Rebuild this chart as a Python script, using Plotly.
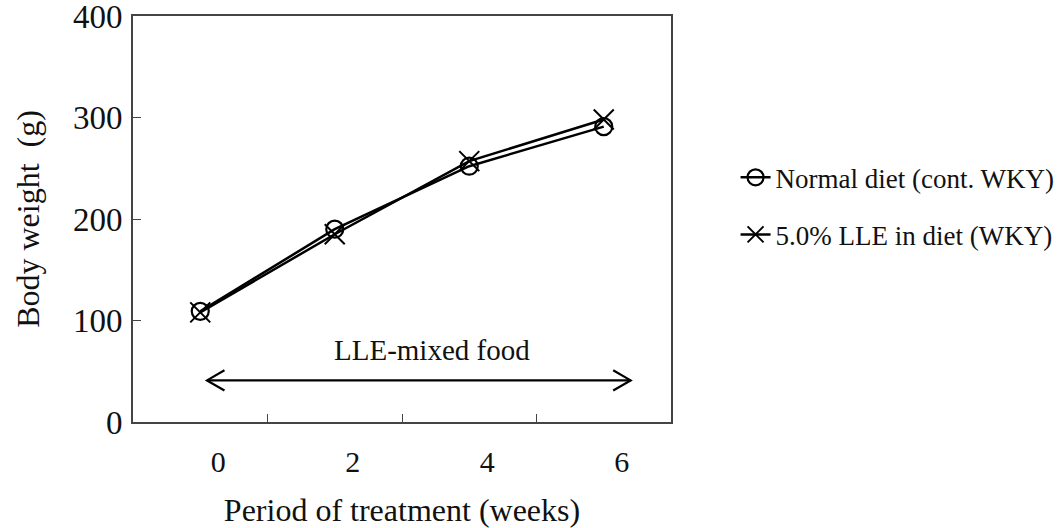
import plotly.graph_objects as go

# Body weight over the treatment period (weeks)
weeks = ["0", "2", "4", "6"]
normal_diet = [109, 190, 252, 291]
lle_diet = [108, 185, 257, 298]
series_names = ["Normal diet (cont. WKY)", "5.0% LLE in diet (WKY)"]

# Extent of the LLE-mixed feeding period arrow (category index units / grams)
arrow_x0, arrow_x1, arrow_y = 0.05, 3.2, 41
food_label = "LLE-mixed food"
food_label_x, food_label_y = 1.72, 71

FONT = "Liberation Serif, Times New Roman, serif"
FRAME = "#444444"

fig = go.Figure()
fig.add_trace(go.Scatter(
    x=weeks, y=normal_diet, name=series_names[0], mode="lines+markers",
    line=dict(color="black", width=2.5),
    marker=dict(symbol="circle-open", size=17, color="black", line=dict(width=2.2)),
    legendgroup="a",
))
fig.add_trace(go.Scatter(
    x=weeks, y=lle_diet, name=series_names[1], mode="lines+markers",
    line=dict(color="black", width=2.5),
    marker=dict(symbol="x-thin-open", size=20, color="black", line=dict(width=2)),
    legendgroup="b",
))

# Double-headed arrow for the feeding period
dx, dy = 0.13, 10
shapes = [
    dict(type="line", xref="x", yref="y", x0=arrow_x0, x1=arrow_x1, y0=arrow_y, y1=arrow_y,
         line=dict(color="black", width=2.2)),
    dict(type="path", xref="x", yref="y",
         path=f"M {arrow_x0 + dx},{arrow_y + dy} L {arrow_x0},{arrow_y} L {arrow_x0 + dx},{arrow_y - dy}",
         line=dict(color="black", width=2.2)),
    dict(type="path", xref="x", yref="y",
         path=f"M {arrow_x1 - dx},{arrow_y + dy} L {arrow_x1},{arrow_y} L {arrow_x1 - dx},{arrow_y - dy}",
         line=dict(color="black", width=2.2)),
]

fig.update_layout(
    width=1061, height=528,
    margin=dict(l=133, r=390, t=16, b=106, autoexpand=False),
    paper_bgcolor="white", plot_bgcolor="white",
    font=dict(family=FONT, color="#111111", size=28),
    shapes=shapes,
    annotations=[dict(x=food_label_x, y=food_label_y, xref="x", yref="y", text=food_label,
                      showarrow=False, font=dict(size=29, family=FONT, color="#111111"))],
    showlegend=True,
    legend=dict(x=1.12, y=0.662, xanchor="left", yanchor="top",
                font=dict(size=27, family=FONT, color="#111111"),
                tracegroupgap=19, bgcolor="rgba(0,0,0,0)"),
    xaxis=dict(
        type="category", range=[-0.5, 3.5], tickson="boundaries", automargin=False,
        ticks="inside", ticklen=8, tickwidth=1.3, tickcolor=FRAME,
        showline=True, linecolor=FRAME, linewidth=1.6, mirror=True,
        showgrid=False, zeroline=False,
        tickfont=dict(size=30, family=FONT), ticklabelshift=18, ticklabelstandoff=12,
        title=dict(text="Period of treatment (weeks)", font=dict(size=32, family=FONT), standoff=22),
    ),
    yaxis=dict(
        range=[0, 400], tickvals=[0, 100, 200, 300, 400], automargin=False,
        ticks="inside", ticklen=8, tickwidth=1.3, tickcolor=FRAME,
        showline=True, linecolor=FRAME, linewidth=1.6, mirror=True,
        showgrid=False, zeroline=False, ticklabeloverflow="allow",
        tickfont=dict(size=33, family=FONT), ticklabelstandoff=2,
        title=dict(text="Body weight  (g)", font=dict(size=32, family=FONT), standoff=24),
    ),
)

fig.write_html("out.html")
